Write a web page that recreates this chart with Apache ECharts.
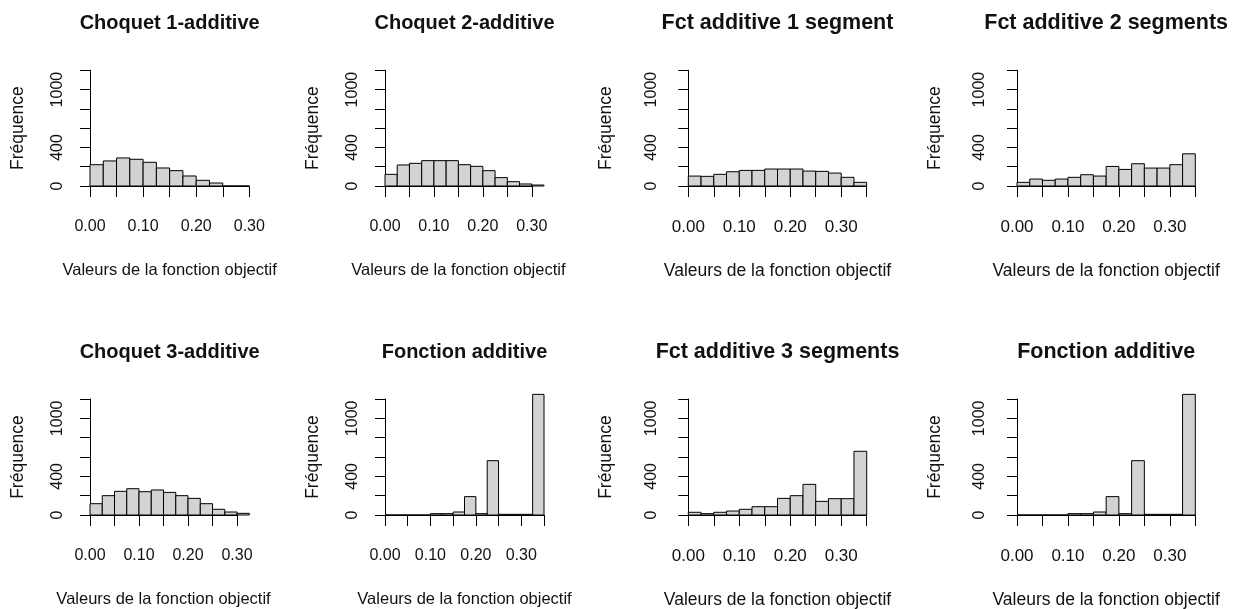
<!DOCTYPE html>
<html>
<head>
<meta charset="utf-8">
<script src="https://cdn.jsdelivr.net/npm/echarts@6/dist/echarts.min.js"></script>
<style>
  html, body { margin: 0; padding: 0; background: #fff; }
  #chart { width: 1236px; height: 609px; }
</style>
</head>
<body>
<div id="chart"></div>
<script>
// histogram counts, bins of width 0.025 starting at 0
const BIN_WIDTH = 0.025;
const choquet1 = [221, 260, 291, 277, 246, 187, 159, 104, 59, 31, 0, 0];
const choquet2 = [121, 218, 235, 263, 263, 263, 221, 204, 159, 87, 45, 21, 10];
const fct1seg = [103, 100, 121, 148, 162, 162, 176, 176, 176, 155, 152, 134, 90, 38];
const fct2seg = [38, 72, 59, 72, 90, 117, 103, 203, 172, 231, 186, 186, 221, 334];
const choquet3 = [117, 200, 245, 272, 241, 259, 234, 200, 172, 117, 59, 31, 17];
const fctAdd = [0, 0, 0, 0, 14, 14, 31, 190, 14, 562, 7, 7, 7, 1500];
const fct3seg = [28, 14, 28, 41, 59, 86, 86, 172, 200, 317, 141, 169, 169, 659];

const TITLES = [
  'Choquet 1-additive', 'Choquet 2-additive', 'Fct additive 1 segment', 'Fct additive 2 segments',
  'Choquet 3-additive', 'Fonction additive', 'Fct additive 3 segments', 'Fonction additive'
];
const COUNTS = [choquet1, choquet2, fct1seg, fct2seg, choquet3, fctAdd, fct3seg, fctAdd];
const X_TICK_MAX = [0.30, 0.30, 0.35, 0.35, 0.30, 0.35, 0.35, 0.35];
const X_LIM_MAX = [0.30, 0.325, 0.35, 0.35, 0.325, 0.35, 0.35, 0.35];
const X_LABELS = ['0.00', '0.10', '0.20', '0.30'];
const Y_LABELS = [0, 400, 1000];
const Y_MAX = 1200;
const X_NAME = 'Valeurs de la fonction objectif';
const Y_NAME = 'Fréquence';

// layout (px)
const COL_X0 = [90, 385, 688.3, 1017];
const COL_W = [159.3, 159, 178.4, 178.3];
const ROW_TOP = [70.3, 399];
const ROW_H = [115.7, 116];
const Y_CLIP = Y_MAX * 1.04;
const INK = '#111';
const FONT = '"Liberation Sans", Arial, sans-serif';
// per column: [x tick size, x name size, y tick size, y name size]
const SIZES = [[16, 16.5, 16, 17.5], [16, 16.5, 16, 17.5], [17, 17.5, 16, 17.5], [17, 17.5, 16, 17.5]];
const TITLE_SIZE = [20, 20, 21.5, 21.5];
// label centre distances from the axis lines
const X_LAB_DIST = 36, X_NAME_DIST = 79.5;
const Y_LAB_DIST = [26.3, 26.3, 29.9, 29.9];
const Y_NAME_DIST = [65.6, 65.6, 74.7, 74.7];

function renderBin(params, api) {
  const p0 = api.coord([api.value(0), 0]);
  const p1 = api.coord([api.value(1), Math.min(api.value(2), Y_CLIP)]);
  return {
    type: 'rect',
    shape: { x: p0[0], y: p1[1], width: p1[0] - p0[0], height: p0[1] - p1[1] },
    style: { fill: '#d3d3d3', stroke: '#000', lineWidth: 1 }
  };
}

const grid = [], xAxis = [], yAxis = [], series = [], title = [];

TITLES.forEach((name, i) => {
  const col = i % 4, row = Math.floor(i / 4);
  const sz = SIZES[col];
  const pxPerUnit = COL_W[col] / X_LIM_MAX[i];
  const left = COL_X0[col];
  const top = ROW_TOP[row];

  grid.push({
    left: left, top: top,
    width: pxPerUnit * X_TICK_MAX[i], height: ROW_H[row],
    outerBoundsMode: 'none'
  });

  title.push({
    text: name,
    left: left + COL_W[col] / 2, top: top - 47,
    textAlign: 'center', textVerticalAlign: 'middle', padding: 0,
    textStyle: { fontFamily: FONT, fontWeight: 'bold', fontSize: TITLE_SIZE[col], color: INK }
  });

  xAxis.push({
    type: 'value', gridIndex: i, min: 0, max: X_TICK_MAX[i], interval: 0.05,
    position: 'bottom', offset: 5,
    splitLine: { show: false },
    axisLine: { show: true, lineStyle: { color: '#000', width: 1 } },
    axisTick: { show: true, length: 11, lineStyle: { color: '#000', width: 1 } },
    axisLabel: {
      margin: X_LAB_DIST - sz[0] / 2, fontFamily: FONT, fontSize: sz[0], color: INK,
      formatter: v => X_LABELS.includes(v.toFixed(2)) ? v.toFixed(2) : ''
    },
    name: X_NAME, nameLocation: 'middle', nameGap: X_NAME_DIST - sz[1] / 2,
    nameTextStyle: { fontFamily: FONT, fontSize: sz[1], color: INK }
  });

  yAxis.push({
    type: 'value', gridIndex: i, min: 0, max: Y_MAX, interval: 200,
    position: 'left', offset: 0.04 * COL_W[col],
    splitLine: { show: false },
    axisLine: { show: true, lineStyle: { color: '#000', width: 1 } },
    axisTick: { show: true, length: 10, lineStyle: { color: '#000', width: 1 } },
    axisLabel: {
      rotate: 90, margin: Y_LAB_DIST[col] - sz[2] / 2,
      fontFamily: FONT, fontSize: sz[2], color: INK,
      formatter: v => Y_LABELS.includes(v) ? String(v) : ''
    },
    name: Y_NAME, nameLocation: 'middle', nameRotate: 90,
    nameGap: Y_NAME_DIST[col] - sz[3] / 2,
    nameTextStyle: { fontFamily: FONT, fontSize: sz[3], color: INK }
  });

  series.push({
    type: 'custom', coordinateSystem: 'cartesian2d',
    xAxisIndex: i, yAxisIndex: i, clip: false, silent: true,
    renderItem: renderBin,
    encode: { x: [0, 1], y: 2 },
    data: COUNTS[i].map((c, k) => [k * BIN_WIDTH, (k + 1) * BIN_WIDTH, c])
  });
});

const chart = echarts.init(document.getElementById('chart'), null, { renderer: 'canvas' });
chart.setOption({
  animation: false,
  backgroundColor: '#fff',
  title, grid, xAxis, yAxis, series
});
</script>
</body>
</html>
